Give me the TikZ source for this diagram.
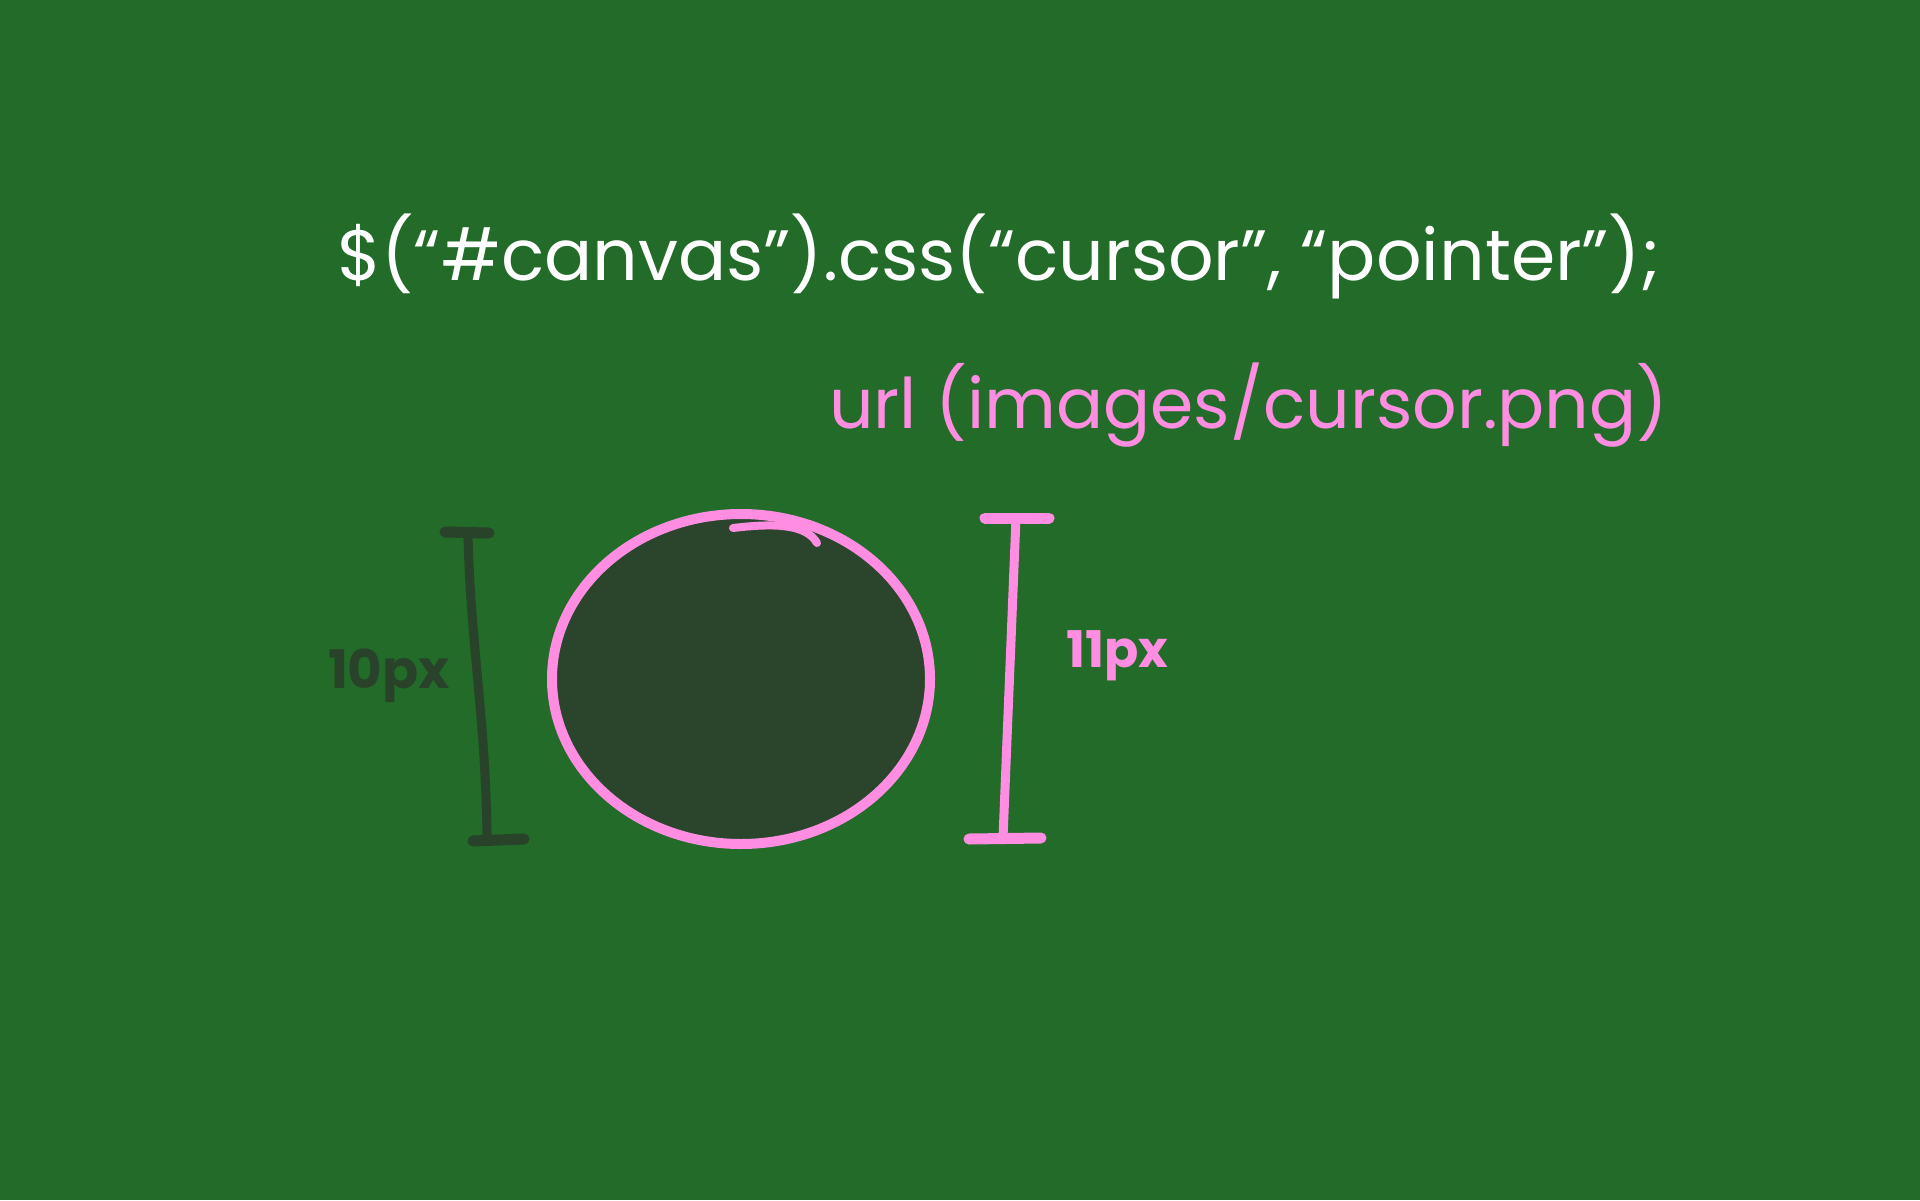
\documentclass[tikz,border=0pt]{standalone}
\usepackage{fontspec}
\setmainfont{Poppins}
\definecolor{bg}{HTML}{226B28}
\definecolor{pinkc}{HTML}{FF8EE2}
\definecolor{darkc}{HTML}{29432A}
\definecolor{fillc}{HTML}{2A452B}
\tikzset{
  txt/.style={inner sep=0pt, anchor=base west},
  bar/.style={line width=9pt, line cap=round},
  capline/.style={line width=11pt, line cap=round},
}
\begin{document}
\begin{tikzpicture}[x=1pt,y=-1pt]
\fill[bg] (0,0) rectangle (1920,1200);
\useasboundingbox (0,0) rectangle (1920,1200);

\node[txt, text=white] (code) at (337,280)
  {\resizebox{1323pt}{!}{\fontsize{80}{96}\selectfont \$(“\#canvas”).css(“cursor”, “pointer”);}};
\node[txt, text=pinkc] (url) at (829,428)
  {\resizebox{839pt}{!}{\fontsize{80}{96}\selectfont url (images/cursor.png)}};

% ellipse
\draw[pinkc, fill=fillc, line width=10pt] (741,679) ellipse [x radius=189, y radius=165];
\draw[pinkc, line width=8pt, line cap=round] (733,528) .. controls (775,523) and (806,524) .. (817,543);

% left dark bar
\coordinate (lt) at (468,533);
\coordinate (lb) at (487,839);
\draw[darkc, bar] (lt) .. controls (470,640) and (486,720) .. (lb);
\draw[darkc, capline] (445,532) -- (489,533);
\draw[darkc, capline] (473,841) -- (524,839);
\node[inner sep=0pt, text=darkc] (ten) at (389,676)
  {\resizebox{122pt}{!}{\fontsize{60}{72}\selectfont\bfseries 10px}};

% right pink bar
\coordinate (rt) at (1016,518);
\coordinate (rb) at (1003,838);
\draw[pinkc, bar] (rt) -- (rb);
\draw[pinkc, capline] (985,518) -- (1049,518);
\draw[pinkc, capline] (969,839) -- (1041,838);
\node[inner sep=0pt, text=pinkc] (eleven) at (1117,656)
  {\resizebox{102pt}{!}{\fontsize{60}{72}\selectfont\bfseries 11px}};
\end{tikzpicture}
\end{document}
